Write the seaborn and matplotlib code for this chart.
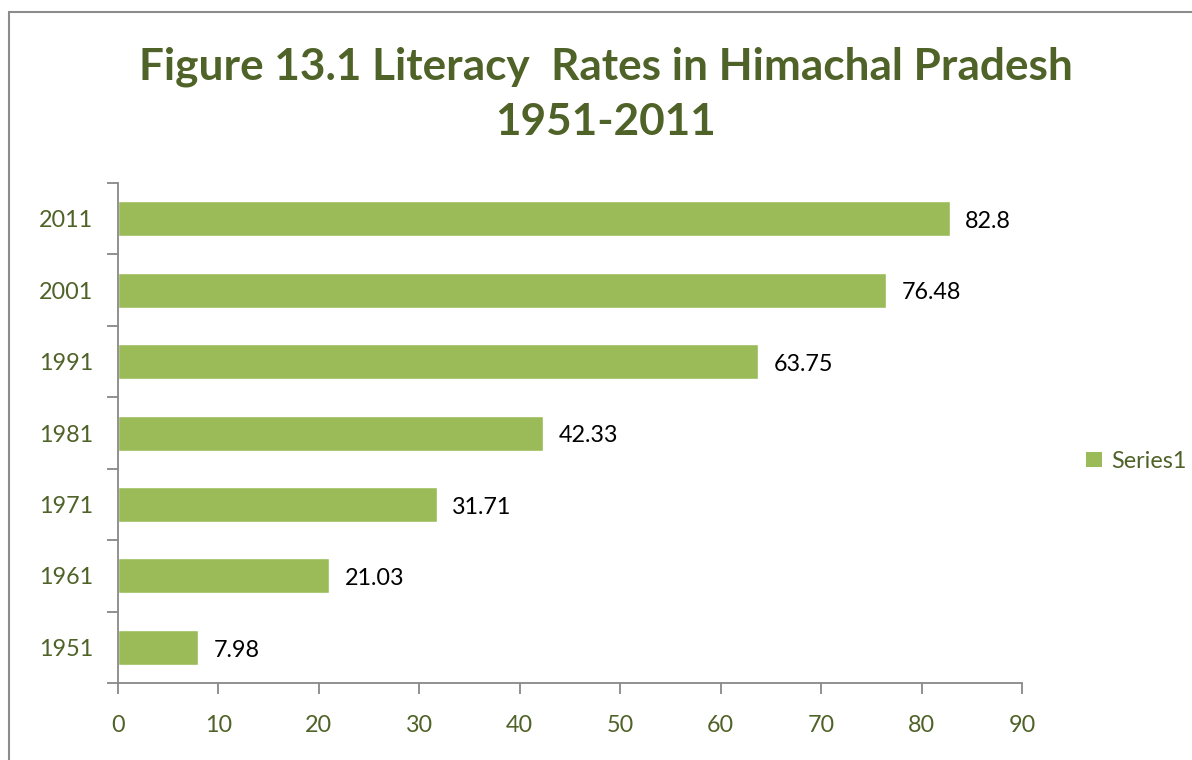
import matplotlib
matplotlib.use("Agg")
import matplotlib.pyplot as plt
import seaborn as sns
import pandas as pd
from matplotlib.patches import Rectangle, Patch

years = ["1951", "1961", "1971", "1981", "1991", "2001", "2011"]
rates = [7.98, 21.03, 31.71, 42.33, 63.75, 76.48, 82.8]
value_labels = ["7.98", "21.03", "31.71", "42.33", "63.75", "76.48", "82.8"]
x_ticks = [0, 10, 20, 30, 40, 50, 60, 70, 80, 90]
series_name = "Series1"
title = "Figure 13.1 Literacy  Rates in Himachal Pradesh\n1951-2011"

sns.set_theme(style="white")
plt.rcParams['font.family'] = ['Lato', 'DejaVu Sans']

bar_color = "#9BBB59"
olive = "#4F6228"
spine_gray = "#888888"
fs = 16.8

df = pd.DataFrame({"year": years, "rate": rates})
order = years[::-1]

fig = plt.figure(figsize=(11.92, 7.6), dpi=100)
ax = fig.add_axes([118/1192, 1-683/760, (1022-118)/1192, (683-183)/760])

sns.barplot(data=df, y="year", x="rate", order=order, color=bar_color,
            width=0.49, ax=ax, orient="h", saturation=1)

ax.set_xlim(0, 90)
ax.set_ylim(len(order)-0.5, -0.5)
ax.set_xticks(x_ticks)
ax.set_xticklabels([str(t) for t in x_ticks])
ax.set_yticks([i - 0.5 for i in range(len(order)+1)], minor=True)
ax.set_yticks(range(len(order)))
ax.set_yticklabels(order)
ax.tick_params(axis="y", which="major", length=0, pad=18, labelsize=fs, labelcolor=olive)
ax.tick_params(axis="y", which="minor", length=8, width=1.3, color=spine_gray, direction="out", left=True)
ax.tick_params(axis="x", which="major", length=8, width=1.3, color=spine_gray, direction="out",
               bottom=True, pad=15, labelsize=fs, labelcolor=olive)
ax.set_xlabel("")
ax.set_ylabel("")

for s in ["top", "right"]:
    ax.spines[s].set_visible(False)
for s in ["left", "bottom"]:
    ax.spines[s].set_color(spine_gray)
    ax.spines[s].set_linewidth(1.3)

ydict = {y: i for i, y in enumerate(order)}
for y, v, lab in zip(years, rates, value_labels):
    ax.annotate(lab, xy=(v, ydict[y]), xytext=(11, -2), textcoords="offset points",
                va="center", ha="left", fontsize=fs, color="black")

fig.text(606/1192, 1-94/760, title, ha="center", va="center", fontsize=31.8,
         fontweight="bold", color=olive, linespacing=1.45)

handle = Patch(facecolor=bar_color, edgecolor="none")
fig.legend([handle], [series_name], loc="center left",
           bbox_to_anchor=(1077/1192, 1-461/760), frameon=False,
           fontsize=fs, labelcolor=olive, handlelength=0.65, handleheight=0.65,
           handletextpad=0.4, borderaxespad=0)

fig.patches.append(Rectangle((9/1192, -0.1), 1.2, 1-12/760+0.1, transform=fig.transFigure,
                             fill=False, edgecolor="#8c8c8c", linewidth=1.5))

fig.savefig("out.png", dpi=100)
